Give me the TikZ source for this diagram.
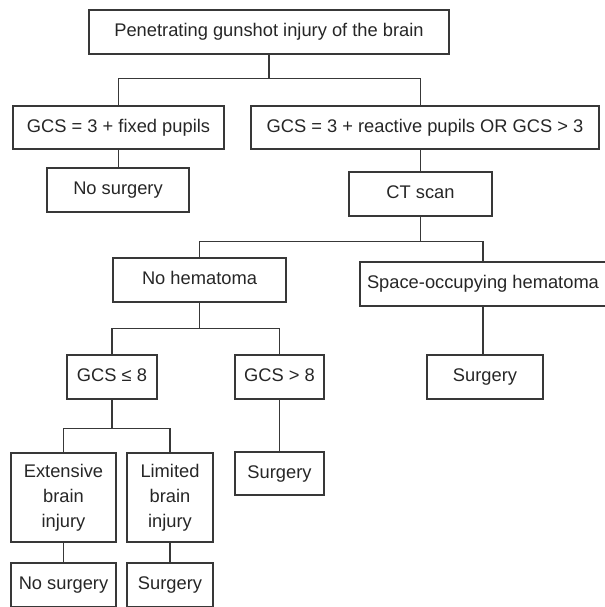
\documentclass[tikz,border=0pt]{standalone}
\usepackage{fontspec}
\setmainfont{Liberation Sans}

\begin{document}
\begin{tikzpicture}[
    x=1bp, y=-1bp,
    every node/.style={draw=black!78, line width=1.2bp, text=black!85, align=center, inner sep=0pt, font=\fontsize{18.3bp}{25bp}\selectfont},
    oneline/.style={text height=13bp, text depth=3.5bp},
    line/.style={draw=black!78, line width=1.2bp}
]
\useasboundingbox (0,0) rectangle (605,607);

% Nodes
\node (P) [oneline, minimum width=360bp, minimum height=44bp] at (269,32) {Penetrating gunshot injury of the brain};
\node (F) [oneline, minimum width=211bp, minimum height=43bp] at (118.5,127.5) {GCS = 3 + fixed pupils};
\node (R) [oneline, minimum width=348bp, minimum height=43bp] at (425,127.5) {GCS = 3 + reactive pupils OR GCS > 3};
\node (N1) [oneline, minimum width=142bp, minimum height=44bp] at (118,190) {No surgery};
\node (CT) [oneline, minimum width=143bp, minimum height=44bp] at (420.5,194) {CT scan};
\node (NH) [oneline, minimum width=173bp, minimum height=44bp] at (199.5,280) {No hematoma};
\node (SH) [oneline, minimum width=246bp, minimum height=44bp] at (483,284) {Space-occupying hematoma};
\node (G1) [oneline, minimum width=90bp, minimum height=44bp] at (112,377) {GCS ≤ 8};
\node (G2) [oneline, minimum width=89bp, minimum height=44bp] at (279.5,377) {GCS > 8};
\node (S1) [oneline, minimum width=116bp, minimum height=44bp] at (485,377) {Surgery};
\node (EX) [minimum width=105bp, minimum height=89bp] at (63.5,497.5) {Extensive\\ brain\\ injury};
\node (LI) [minimum width=86bp, minimum height=89bp] at (170,497.5) {Limited\\ brain\\ injury};
\node (S2) [oneline, minimum width=89bp, minimum height=43bp] at (279.5,473.5) {Surgery};
\node (N2) [oneline, minimum width=105bp, minimum height=44bp] at (63.5,585) {No surgery};
\node (S3) [oneline, minimum width=86bp, minimum height=44bp] at (170,585) {Surgery};

% Lines
\draw[line] (P.south) -- ++(0,24) -| (F.north);
\draw[line] (P.south) -- ++(0,24) -| (R.north -| CT.north);
\draw[line] (F.south) -- (F.south |- N1.north);
\draw[line] (R.south -| CT.north) -- (CT.north);
\draw[line] (CT.south) -- ++(0,25) -| (NH.north);
\draw[line] (CT.south) -- ++(0,25) -| (SH.north);
\draw[line] (NH.south) -- ++(0,26) -| (G1.north);
\draw[line] (NH.south) -- ++(0,26) -| (G2.north);
\draw[line] (SH.south) -- (SH.south |- S1.north);
\draw[line] (G1.south) -- ++(0,29) -| (EX.north);
\draw[line] (G1.south) -- ++(0,29) -| (LI.north);
\draw[line] (G2.south) -- (G2.south |- S2.north);
\draw[line] (EX.south) -- (EX.south |- N2.north);
\draw[line] (LI.south) -- (LI.south |- S3.north);

\end{tikzpicture}
\end{document}
